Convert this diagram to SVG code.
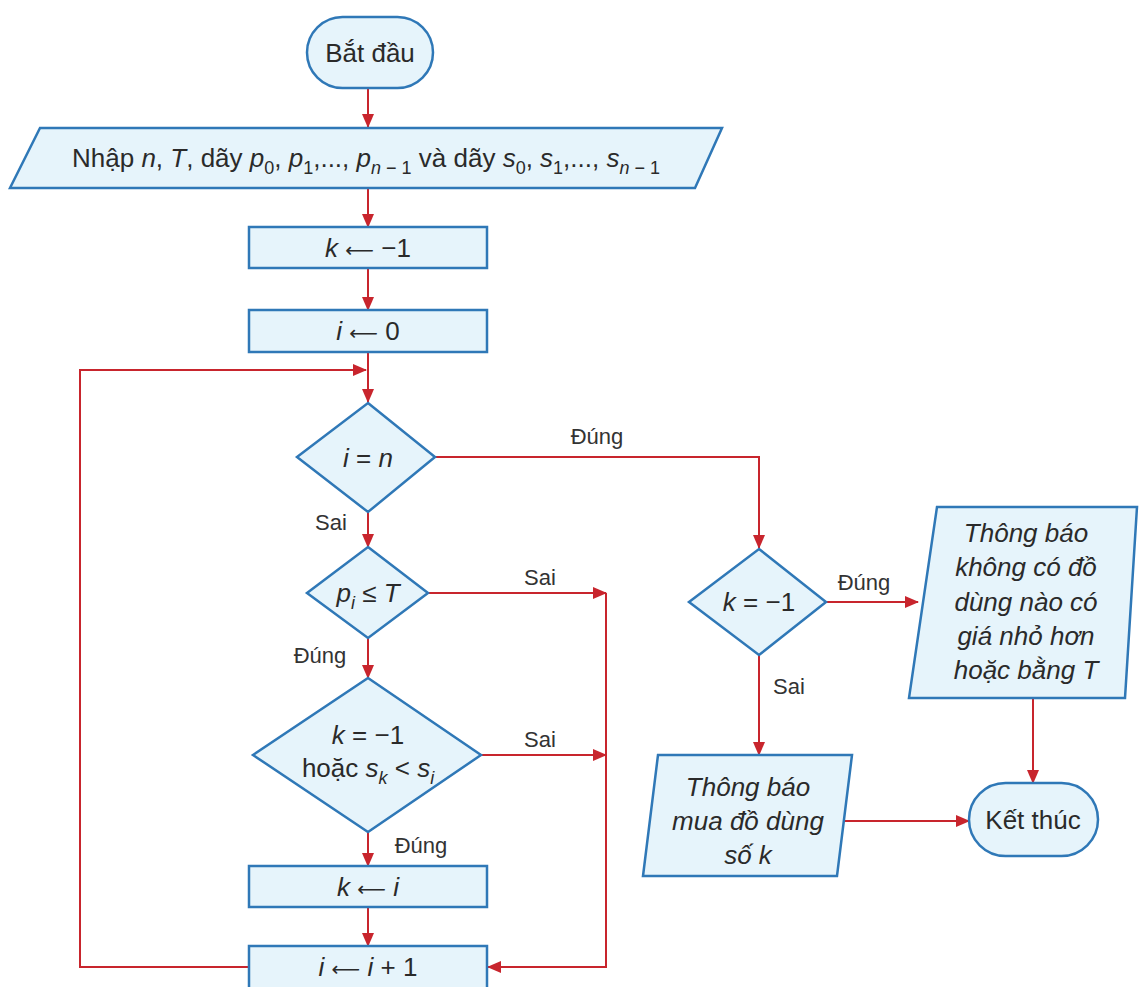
<svg xmlns="http://www.w3.org/2000/svg" width="1139" height="987" viewBox="0 0 1139 987">
<style>
.n{fill:#e6f4fb;stroke:#2f78b7;stroke-width:2.5}
.t{font-family:"Liberation Sans",Arial,sans-serif;font-size:26px;fill:#2a2a2a;text-anchor:middle}
.i{font-style:italic}
.s{font-size:18px}
.a{font-family:"DejaVu Sans",sans-serif;font-size:20px}
.l{font-family:"Liberation Sans",Arial,sans-serif;font-size:22px;fill:#333;text-anchor:middle}
.c{fill:none;stroke:#c8252d;stroke-width:2}
</style>
<defs>
<marker id="ah" markerUnits="userSpaceOnUse" markerWidth="14" markerHeight="12" refX="13" refY="6" orient="auto">
<path d="M0,0 L14,6 L0,12 Z" fill="#c8252d"/>
</marker>
</defs>
<rect width="1139" height="987" fill="#ffffff"/>
<g id="connectors">
<path class="c" d="M368,88 V127" marker-end="url(#ah)"/>
<path class="c" d="M368,188 V227" marker-end="url(#ah)"/>
<path class="c" d="M368,268 V310" marker-end="url(#ah)"/>
<path class="c" d="M368,352 V402" marker-end="url(#ah)"/>
<path class="c" d="M249,967 H80 V370 H366" marker-end="url(#ah)"/>
<path class="c" d="M435,457 H759 V548" marker-end="url(#ah)"/>
<path class="c" d="M368,512 V547" marker-end="url(#ah)"/>
<path class="c" d="M428,593 H606" marker-end="url(#ah)"/>
<path class="c" d="M606,593 V967 H488" marker-end="url(#ah)"/>
<path class="c" d="M368,638 V678" marker-end="url(#ah)"/>
<path class="c" d="M481,755 H606" marker-end="url(#ah)"/>
<path class="c" d="M368,832 V866" marker-end="url(#ah)"/>
<path class="c" d="M368,907 V946" marker-end="url(#ah)"/>
<path class="c" d="M826,602 H918" marker-end="url(#ah)"/>
<path class="c" d="M759,655 V755" marker-end="url(#ah)"/>
<path class="c" d="M844,821 H969" marker-end="url(#ah)"/>
<path class="c" d="M1033,698 V783" marker-end="url(#ah)"/>
<text class="l" x="597" y="444">Đúng</text>
<text class="l" x="331" y="530">Sai</text>
<text class="l" x="540" y="585">Sai</text>
<text class="l" x="320" y="663">Đúng</text>
<text class="l" x="540" y="747">Sai</text>
<text class="l" x="421" y="853">Đúng</text>
<text class="l" x="864" y="590">Đúng</text>
<text class="l" x="789" y="694">Sai</text>
</g>
<g id="start">
<rect class="n" x="307" y="17" width="126" height="71" rx="35.5"/>
<text class="t" x="370" y="62">Bắt đầu</text>
</g>
<g id="input">
<polygon class="n" points="40,128 722,128 695,188 10,188"/>
<text class="t" x="366" y="167">Nhập <tspan class="i">n</tspan>, <tspan class="i">T</tspan>, dãy <tspan class="i">p</tspan><tspan class="s" dy="7">0</tspan><tspan dy="-7">, </tspan><tspan class="i">p</tspan><tspan class="s" dy="7">1</tspan><tspan dy="-7">,..., </tspan><tspan class="i">p</tspan><tspan class="s" dy="7"><tspan class="i">n</tspan> − 1</tspan><tspan dy="-7"> và dãy </tspan><tspan class="i">s</tspan><tspan class="s" dy="7">0</tspan><tspan dy="-7">, </tspan><tspan class="i">s</tspan><tspan class="s" dy="7">1</tspan><tspan dy="-7">,..., </tspan><tspan class="i">s</tspan><tspan class="s" dy="7"><tspan class="i">n</tspan> − 1</tspan></text>
</g>
<g id="k_init">
<rect class="n" x="249" y="227" width="238" height="41"/>
<text class="t" x="368" y="257"><tspan class="i">k</tspan> <tspan class="a">⟵</tspan> −1</text>
</g>
<g id="i_init">
<rect class="n" x="249" y="310" width="238" height="42"/>
<text class="t" x="368" y="340"><tspan class="i">i</tspan> <tspan class="a">⟵</tspan> 0</text>
</g>
<g id="cond_i_eq_n">
<polygon class="n" points="368,403 435,457 368,512 297,457"/>
<text class="t" x="368" y="467"><tspan class="i">i</tspan> = <tspan class="i">n</tspan></text>
</g>
<g id="cond_p_le_T">
<polygon class="n" points="368,547 428,593 368,638 307,593"/>
<text class="t" x="368" y="602"><tspan class="i">p</tspan><tspan class="i s" dy="7">i</tspan><tspan dy="-7"> ≤ </tspan><tspan class="i">T</tspan></text>
</g>
<g id="cond_k_s">
<polygon class="n" points="368,678 481,755 368,832 253,755"/>
<text class="t" x="368" y="744"><tspan class="i">k</tspan> = −1</text>
<text class="t" x="368" y="777">hoặc <tspan class="i">s</tspan><tspan class="i s" dy="7">k</tspan><tspan dy="-7"> &lt; </tspan><tspan class="i">s</tspan><tspan class="i s" dy="7">i</tspan></text>
</g>
<g id="k_assign">
<rect class="n" x="249" y="866" width="238" height="41"/>
<text class="t" x="368" y="896"><tspan class="i">k</tspan> <tspan class="a">⟵</tspan> <tspan class="i">i</tspan></text>
</g>
<g id="i_inc">
<rect class="n" x="249" y="946" width="238" height="46"/>
<text class="t" x="368" y="976"><tspan class="i">i</tspan> <tspan class="a">⟵</tspan> <tspan class="i">i</tspan> + 1</text>
</g>
<g id="cond_k_neg">
<polygon class="n" points="759,549 826,602 759,655 689,602"/>
<text class="t" x="759" y="611"><tspan class="i">k</tspan> = −1</text>
</g>
<g id="msg_none">
<polygon class="n" points="937,507 1137,507 1125,698 909,698"/>
<text class="t i" x="1026" y="542">Thông báo</text>
<text class="t i" x="1026" y="576">không có đồ</text>
<text class="t i" x="1026" y="611">dùng nào có</text>
<text class="t i" x="1026" y="645">giá nhỏ hơn</text>
<text class="t i" x="1026" y="679">hoặc bằng T</text>
</g>
<g id="msg_buy">
<polygon class="n" points="658,755 852,755 837,876 643,876"/>
<text class="t i" x="748" y="796">Thông báo</text>
<text class="t i" x="748" y="830">mua đồ dùng</text>
<text class="t i" x="748" y="864">số k</text>
</g>
<g id="end">
<rect class="n" x="969" y="783" width="129" height="73" rx="36.5"/>
<text class="t" x="1033" y="829">Kết thúc</text>
</g>
</svg>
